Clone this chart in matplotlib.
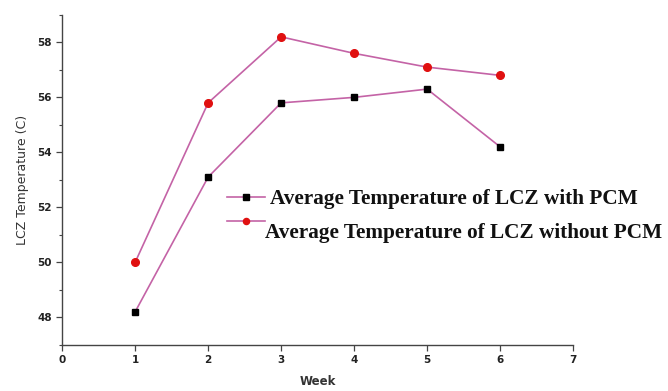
import matplotlib
matplotlib.use("Agg")
import matplotlib.pyplot as plt
from matplotlib.ticker import MultipleLocator

weeks = [1, 2, 3, 4, 5, 6]
with_pcm = [48.2, 53.1, 55.8, 56.0, 56.3, 54.2]
without_pcm = [50.0, 55.8, 58.2, 57.6, 57.1, 56.8]
labels = ["Average Temperature of LCZ with PCM", "Average Temperature of LCZ without PCM"]

line_color = "#c463a6"

fig = plt.figure(figsize=(6.68, 3.91), dpi=100)
ax = fig.add_axes([0.093, 0.118, 0.765, 0.844])

h1, = ax.plot(weeks, with_pcm, color=line_color, lw=1.2, marker="s", ms=5,
              mfc="black", mec="black")
h2, = ax.plot(weeks, without_pcm, color=line_color, lw=1.2, marker="o", ms=5.5,
              mfc="#e01010", mec="#e01010")

ax.set_xlim(0, 7)
ax.set_ylim(47, 59)
ax.xaxis.set_major_locator(MultipleLocator(1))
ax.yaxis.set_major_locator(MultipleLocator(2))
ax.yaxis.set_minor_locator(MultipleLocator(1))
for s in ["top", "right"]:
    ax.spines[s].set_visible(False)
for s in ["left", "bottom"]:
    ax.spines[s].set_color("#444444")
    ax.spines[s].set_linewidth(1.0)
ax.tick_params(axis="both", which="major", direction="out", length=4, width=0.9,
               colors="#444444", labelcolor="#222222", labelsize=7.5)
ax.tick_params(axis="y", which="minor", direction="out", length=2.5, width=0.8, colors="#444444")
for lbl in ax.get_xticklabels() + ax.get_yticklabels():
    lbl.set_fontweight("bold")

ax.set_xlabel("Week", fontsize=8.5, fontweight="bold", color="#333333", labelpad=7)
ax.set_ylabel("LCZ Temperature (C)", fontsize=9, color="#333333", labelpad=6)

# legend handles (symbols only), texts placed as in the reference
leg = ax.legend([h1, h2], ["", ""], loc="center left", bbox_to_anchor=(0.323, 0.409),
                frameon=False, fontsize=10, handlelength=2.7, handletextpad=0,
                labelspacing=0.75, borderaxespad=0, borderpad=0, markerscale=0.8)

legend_font = {"family": "Liberation Serif", "weight": "bold", "size": 15.3}
ax.text(0.407, 0.442, labels[0], transform=ax.transAxes, va="center", ha="left",
        color="#111111", **legend_font)
ax.text(0.397, 0.339, labels[1], transform=ax.transAxes, va="center", ha="left",
        color="#111111", clip_on=False, **legend_font)

fig.savefig("out.png", dpi=100)
